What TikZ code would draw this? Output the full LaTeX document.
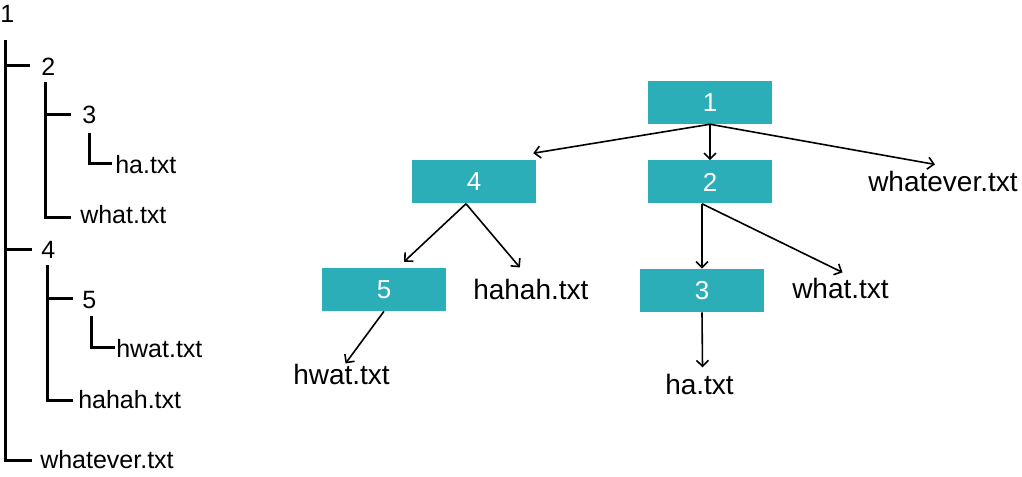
\documentclass[tikz,border=0pt]{standalone}
\usepackage{fontspec}
\setmainfont{Liberation Sans}
\usetikzlibrary{calc,arrows.meta}
\definecolor{teal1}{HTML}{2BAEB7}
\tikzset{
  lft/.style={anchor=base west, inner sep=0pt, font=\fontsize{18.75}{20}\selectfont},
  rgt/.style={anchor=base west, inner sep=0pt, font=\fontsize{21}{23}\selectfont},
  box/.style={fill=teal1, text=white, minimum width=93pt, minimum height=32.25pt, inner sep=0pt, font=\fontsize{19.5}{21}\selectfont},
  treeline/.style={line width=2.2pt},
  arr/.style={line width=1.2pt, -{Straight Barb[length=4.5pt,width=9pt]}}
}
\begin{document}
\begin{tikzpicture}[x=0.75pt,y=-0.75pt]
\useasboundingbox (0,0) rectangle (1022,477);
% ---------- left tree ----------
\node[lft] (L1) at (0,23) {1};
\node[lft] (L2) at (41,76) {2};
\node[lft] (L3) at (82,124) {3};
\node[lft] (Lha) at (115,174) {ha.txt};
\node[lft] (Lwhat) at (80,224) {what.txt};
\node[lft] (L4) at (41,259) {4};
\node[lft] (L5) at (82,309) {5};
\node[lft] (Lhwat) at (116,358) {hwat.txt};
\node[lft] (Lhahah) at (78,409) {hahah.txt};
\node[lft] (Lwtv) at (40,469) {whatever.txt};

\draw[treeline] ($(L1.south)+(-2,17)$) |- ($(Lwtv.west)+(-8,0)$);
\draw[treeline] ($(L2.west)+(-11,-2)$) -- ++(-25,0);
\draw[treeline] ($(L4.west)+(-9,-1)$) -- ++(-27,0);

\draw[treeline] ($(L2.south)+(-3,6)$) |- ($(Lwhat.west)+(-9,2)$);
\draw[treeline] ($(L3.west)+(-11,-1)$) -- ++(-26,0);
\draw[treeline] ($(L3.south)+(0,8)$) |- ($(Lha.west)+(-3,-2)$);

\draw[treeline] ($(L4.south)+(-1,6)$) |- ($(Lhahah.west)+(-5,0)$);
\draw[treeline] ($(L5.west)+(-9,-2)$) -- ++(-26,0);
\draw[treeline] ($(L5.south)+(2,6)$) |- ($(Lhwat.west)+(-1,-2)$);

% ---------- right tree ----------
\node[box] (B1) at (710,102.5) {1};
\node[box] (B4) at (474,182) {4};
\node[box] (B2) at (710,182) {2};
\node[box] (B5) at (384,289.5) {5};
\node[box] (B3) at (702,290.5) {3};

\node[rgt] (Rwtv) at (868,192) {whatever.txt};
\node[rgt] (Rwhat) at (792,299) {what.txt};
\node[rgt] (Rha) at (665,395) {ha.txt};
\node[rgt] (Rhahah) at (473,300) {hahah.txt};
\node[rgt] (Rhwat) at (293,385) {hwat.txt};

\draw[arr] (B1.south) -- ($(B4.north east)+(-3,-7)$);
\draw[arr] (B1.south) -- (B2.north);
\draw[arr] (B1.south) -- ($(Rwtv.north)+(-8,-7)$);

\draw[arr] ($(B4.south)+(-8,0)$) -- ($(B5.north)+(20,-6)$);
\draw[arr] ($(B4.south)+(-8,0)$) -- ($(Rhahah.north)+(-11,-12)$);
\draw[arr] (B5.south) -- ($(Rhwat.north)+(4,-1)$);

\draw[arr] ($(B2.south)+(-8,0)$) -- (B3.north);
\draw[arr] ($(B2.south)+(-8,0)$) -- ($(Rwhat.north)+(2,-6)$);
\draw[arr] (B3.south) -- ($(Rha.north)+(3,-7)$);
\end{tikzpicture}
\end{document}
